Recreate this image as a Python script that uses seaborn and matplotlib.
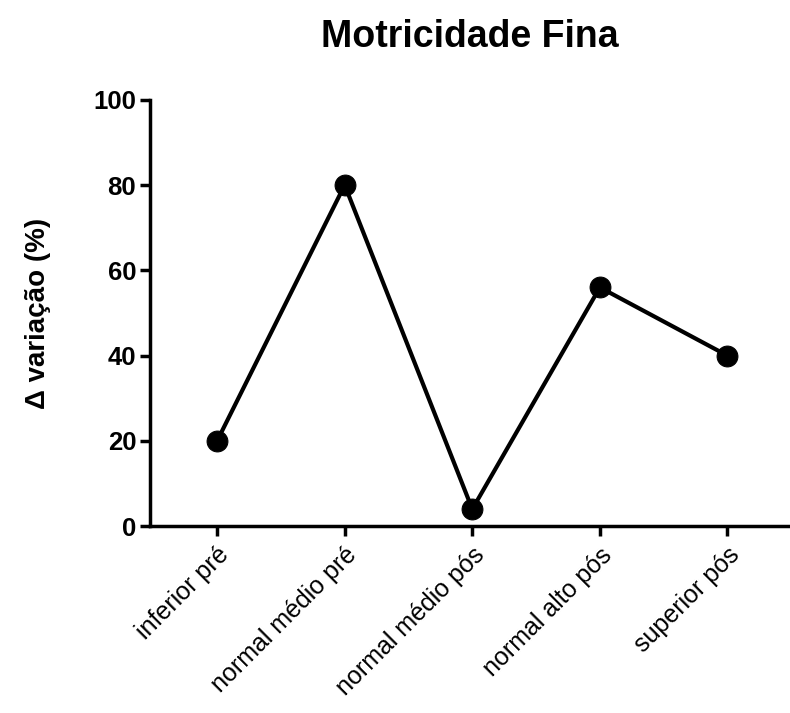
import matplotlib
matplotlib.use("Agg")
import matplotlib.pyplot as plt
import seaborn as sns
import pandas as pd

categories = ["inferior pré", "normal médio pré", "normal médio pós", "normal alto pós", "superior pós"]
variacao = [20, 80, 4, 56, 40]
y_ticks = [0, 20, 40, 60, 80, 100]

sns.set_theme(style="ticks")
plt.rcParams['font.family'] = ['Liberation Sans', 'DejaVu Sans']
plt.rcParams['text.color'] = 'black'
plt.rcParams['axes.labelcolor'] = 'black'
plt.rcParams['xtick.color'] = 'black'
plt.rcParams['ytick.color'] = 'black'

df = pd.DataFrame({"grupo": categories, "variacao": variacao})
df["pos"] = range(len(df))

fig = plt.figure(figsize=(7.9, 7.13), dpi=100)
ax = fig.add_axes([0.19, 0.262, 0.81, 0.598])

sns.lineplot(data=df, x="pos", y="variacao", ax=ax, color="black", linewidth=3,
             marker="o", markersize=15, markeredgecolor="black", markerfacecolor="black")

ax.set_xlim(-0.525, 4.49)
ax.set_ylim(0, 100)
ax.set_yticks(y_ticks)
ax.set_xticks(df["pos"])
ax.set_xticklabels(categories, rotation=45, ha="right", rotation_mode="anchor")
ax.set_xlabel("")
ax.set_ylabel("Δ variação (%)", fontsize=20, fontweight="bold")
ax.yaxis.set_label_coords(-0.155, 0.5)
ax.set_title("Motricidade Fina", fontsize=27, fontweight="bold", pad=38)

for lbl in ax.get_yticklabels():
    lbl.set_fontweight("bold")
    lbl.set_fontsize(18.5)
for lbl in ax.get_xticklabels():
    lbl.set_fontsize(18)

ax.tick_params(axis="both", width=2.5, length=7, color="black", direction="out")
ax.tick_params(axis="y", pad=3)
ax.tick_params(axis="x", pad=5)
for side in ["left", "bottom"]:
    ax.spines[side].set_linewidth(2.5)
    ax.spines[side].set_color("black")
sns.despine(ax=ax)

fig.savefig("out.png", dpi=100)
